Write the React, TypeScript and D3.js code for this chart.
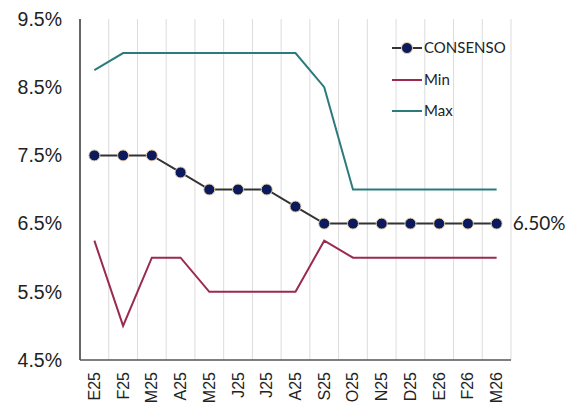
import React from "react";
import * as d3 from "d3";

const months = ["E25", "F25", "M25", "A25", "M25", "J25", "J25", "A25", "S25", "O25", "N25", "D25", "E26", "F26", "M26"];
const consenso = [7.5, 7.5, 7.5, 7.25, 7.0, 7.0, 7.0, 6.75, 6.5, 6.5, 6.5, 6.5, 6.5, 6.5, 6.5];
const minRate = [6.25, 5.0, 6.0, 6.0, 5.5, 5.5, 5.5, 5.5, 6.25, 6.0, 6.0, 6.0, 6.0, 6.0, 6.0];
const maxRate = [8.75, 9.0, 9.0, 9.0, 9.0, 9.0, 9.0, 9.0, 8.5, 7.0, 7.0, 7.0, 7.0, 7.0, 7.0];
const yTicks = [4.5, 5.5, 6.5, 7.5, 8.5, 9.5];
const lastLabel = "6.50%";

const W = 576;
const H = 407;
const left = 80;
const right = 511;
const top = 19;
const bottom = 360;

const COL_CONS = "#333333";
const COL_MARK = "#0b1a5c";
const COL_MIN = "#9b2a50";
const COL_MAX = "#2c7b7c";

export default function App() {
  const idx = months.map((_, i) => String(i));
  const x = d3.scaleBand<string>().domain(idx).range([left, right]).paddingInner(0).paddingOuter(0);
  const y = d3.scaleLinear().domain([4.5, 9.5]).range([bottom, top]);
  const cx = (i: number) => (x(String(i)) as number) + x.bandwidth() / 2;
  const line = d3
    .line<number>()
    .x((_, i) => cx(i))
    .y((d) => y(d));

  const gridX = idx.slice(1).map((k) => x(k) as number).concat([right]);

  return (
    <svg
      width={W}
      height={H}
      style={{ position: "absolute", left: 0, top: 0, background: "#fff" }}
      fontFamily="'Liberation Sans', Arial, sans-serif"
    >
      {/* vertical category gridlines */}
      {gridX.map((gx, i) => (
        <line key={i} x1={gx} x2={gx} y1={top} y2={bottom} stroke="#dcdcdc" strokeWidth={1} />
      ))}

      {/* axes */}
      <line x1={left} x2={left} y1={top} y2={bottom} stroke="#333" strokeWidth={1.5} />
      <line x1={left} x2={right} y1={bottom} y2={bottom} stroke="#555" strokeWidth={1.5} />

      {/* y tick labels */}
      {yTicks.map((t) => (
        <text key={t} x={62} y={y(t)} dy="0.35em" textAnchor="end" fontSize={19.5} fill="#222">
          {t.toFixed(1)}%
        </text>
      ))}

      {/* x tick labels, rotated */}
      {months.map((m, i) => (
        <text
          key={i}
          transform={`translate(${cx(i) + 5.5},${372}) rotate(-90)`}
          textAnchor="end"
          fontSize={16}
          fill="#222"
        >
          {m}
        </text>
      ))}

      {/* series */}
      <path d={line(maxRate) || ""} fill="none" stroke={COL_MAX} strokeWidth={2} />
      <path d={line(minRate) || ""} fill="none" stroke={COL_MIN} strokeWidth={2} />
      <path d={line(consenso) || ""} fill="none" stroke={COL_CONS} strokeWidth={2} />
      {consenso.map((v, i) => (
        <circle key={i} cx={cx(i)} cy={y(v)} r={5.5} fill={COL_MARK} stroke="#e8cfa8" strokeWidth={1} />
      ))}

      {/* end value label */}
      <text
        x={cx(consenso.length - 1) + 16}
        y={y(consenso[consenso.length - 1])}
        dy="0.35em"
        fontSize={19}
        fontFamily="Lato, 'Open Sans', sans-serif"
        fill="#222"
      >
        {lastLabel}
      </text>

      {/* legend */}
      <g fontFamily="Lato, 'Open Sans', sans-serif" fontSize={15} fill="#222">
        <line x1={392} x2={422} y1={48} y2={48} stroke={COL_CONS} strokeWidth={2} />
        <circle cx={407} cy={48} r={5.5} fill={COL_MARK} stroke="#e8cfa8" strokeWidth={1} />
        <text x={424} y={48} dy="0.35em">CONSENSO</text>
        <line x1={392} x2={422} y1={80} y2={80} stroke={COL_MIN} strokeWidth={2} />
        <text x={424} y={80} dy="0.35em">Min</text>
        <line x1={392} x2={422} y1={111} y2={111} stroke={COL_MAX} strokeWidth={2} />
        <text x={424} y={111} dy="0.35em">Max</text>
      </g>
    </svg>
  );
}
